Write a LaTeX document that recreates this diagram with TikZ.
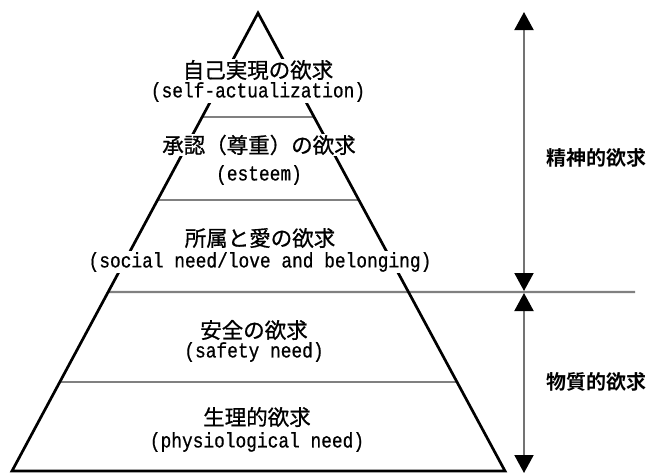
\documentclass[tikz,border=0pt]{standalone}
\usepackage{fontspec}
\newfontfamily\jp{Noto Sans CJK JP}[FakeBold=0.8]
\newfontfamily\jpbold{Noto Sans CJK JP Bold}
\newfontfamily\en{Liberation Mono}[FakeStretch=0.85, FakeBold=0.6]
\usetikzlibrary{arrows.meta,calc}
\begin{document}
\begin{tikzpicture}[x=1pt,y=-1pt,
  jptext/.style={font=\jp\fontsize{21.5}{24}\selectfont, inner sep=1pt, fill=white},
  entext/.style={font=\en\fontsize{21}{22}\selectfont, inner sep=1.5pt, fill=white},
  side/.style={font=\jpbold\fontsize{20}{22}\selectfont, inner sep=1pt},
  edge/.style={line width=2.7pt, line join=miter, draw=black},
  tier/.style={line width=2.2pt, draw=black!50},
  span/.style={line width=2pt, draw=black!55,
    {Triangle[length=18pt,width=19pt,color=black]}-{Triangle[length=18pt,width=19pt,color=black]}}]
\useasboundingbox (0,0) rectangle (657,475);
\fill[white] (0,0) rectangle (657,475);
\coordinate (A) at (258,13);
\coordinate (L) at (12,471);
\coordinate (R) at (505,471);
\coordinate (E) at (635,292);
\coordinate (s1) at (524,12);
\coordinate (s2) at (524,291);
\coordinate (s3) at (524,293);
\coordinate (s4) at (524,473);
% tier lines
\draw[tier] ($(A)!0.2271!(L)$) -- ($(A)!0.2271!(R)$);
\draw[tier] ($(A)!0.4083!(L)$) -- ($(A)!0.4083!(R)$);
\draw[tier] ($(A)!0.6092!(L)$) -- (E);
\draw[tier] ($(A)!0.8057!(L)$) -- ($(A)!0.8057!(R)$);
% pyramid
\draw[edge] (A) -- (L) -- (R) -- cycle;
% arrows
\draw[span] (s1) -- (s2);
\draw[span] (s3) -- (s4);
% labels
\node[jptext] (n1) at (258,70) {自己実現の欲求};
\node[entext] (n1e) at (258,92) {(self-actualization)};
\node[jptext] (n2) at (259,145) {承認（尊重）の欲求};
\node[entext] (n2e) at (259,175) {(esteem)};
\node[jptext] (n3) at (260,238) {所属と愛の欲求};
\node[entext] (n3e) at (260,262) {(social need/love and belonging)};
\node[jptext] (n4) at (254,330) {安全の欲求};
\node[entext] (n4e) at (254,352) {(safety need)};
\node[jptext] (n5) at (257,417) {生理的欲求};
\node[entext] (n5e) at (257,442) {(physiological need)};
\node[side] (m1) at (596,158) {精神的欲求};
\node[side] (m2) at (596,382) {物質的欲求};
\end{tikzpicture}
\end{document}
